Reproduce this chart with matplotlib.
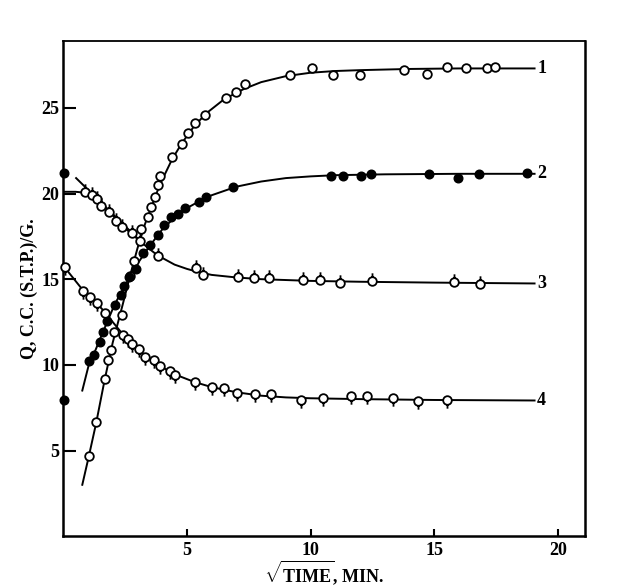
import matplotlib
matplotlib.use("Agg")
import matplotlib.pyplot as plt
from matplotlib.path import Path

plt.rcParams['font.family'] = ['Liberation Serif', 'DejaVu Serif']
plt.rcParams['font.weight'] = 'bold'
plt.rcParams['mathtext.fontset'] = 'custom'
plt.rcParams['mathtext.rm'] = 'Liberation Serif:bold'
plt.rcParams['mathtext.bf'] = 'Liberation Serif:bold'

# ---- data (x = sqrt(time, min), y = Q, c.c./g) ----
x1 = [1.04, 1.33, 1.67, 1.80, 1.94, 2.04, 2.37, 2.68, 2.87, 3.15, 3.44, 3.55, 3.71,
      3.84, 3.92, 4.38, 4.80, 5.03, 5.31, 5.74, 6.59, 6.99, 7.34, 9.17, 10.04, 10.89,
      11.98, 13.79, 14.70, 15.50, 16.28, 17.12, 17.46]
y1 = [4.7, 6.65, 9.2, 10.3, 10.85, 11.9, 12.9, 15.2, 16.05, 17.9, 18.6, 19.2, 19.8,
      20.5, 21.0, 22.15, 22.9, 23.55, 24.1, 24.6, 25.6, 25.9, 26.4, 26.9, 27.3, 26.9,
      26.9, 27.2, 27.0, 27.4, 27.3, 27.3, 27.4]

x2 = [1.05, 1.25, 1.48, 1.62, 1.77, 2.08, 2.32, 2.47, 2.65, 2.94, 3.24, 3.52, 3.83,
      4.08, 4.37, 4.64, 4.94, 5.48, 5.77, 6.88, 10.81, 11.30, 12.02, 12.43, 14.78,
      15.97, 16.80, 18.74]
y2 = [10.2, 10.55, 11.35, 11.9, 12.55, 13.5, 14.1, 14.6, 15.1, 15.6, 16.5, 17.0, 17.6,
      18.15, 18.6, 18.8, 19.15, 19.5, 19.8, 20.4, 21.0, 21.0, 21.0, 21.15, 21.15,
      20.9, 21.15, 21.2]

x3 = [0.86, 1.17, 1.35, 1.52, 1.86, 2.14, 2.39, 2.76, 3.12, 3.82, 5.37, 5.64, 7.08,
      7.69, 8.32, 9.69, 10.38, 11.17, 12.47, 15.80, 16.83]
y3 = [20.1, 19.9, 19.68, 19.3, 18.9, 18.42, 18.05, 17.68, 17.2, 16.38, 15.63, 15.25,
      15.14, 15.04, 15.04, 14.98, 14.98, 14.8, 14.92, 14.82, 14.7]

x4 = [0.08, 0.81, 1.10, 1.35, 1.70, 2.42, 2.60, 2.77, 3.08, 3.30, 3.68, 3.91, 4.30,
      4.53, 5.34, 6.03, 6.50, 7.04, 7.74, 8.41, 9.62, 10.51, 11.64, 12.26, 13.32,
      14.33, 15.52]
y4 = [15.7, 14.3, 13.96, 13.6, 13.0, 11.77, 11.48, 11.22, 10.95, 10.43, 10.28, 9.92,
      9.64, 9.39, 9.02, 8.7, 8.65, 8.35, 8.27, 8.31, 7.92, 8.06, 8.2, 8.18, 8.08, 7.9,
      7.92]

# starting values marked on the y axis
x0 = [0.05, 0.05]
y0 = [21.2, 7.95]

# drawn curves
cx1 = [0.77, 1.04, 1.33, 1.67, 2.0, 2.4, 2.7, 3.0, 3.3, 3.6, 3.9, 4.4, 4.8, 5.3, 5.8,
       6.5, 7.3, 8.0, 9.0, 10.0, 11.0, 12.0, 14.0, 16.0, 19.05]
cy1 = [3.0, 4.7, 6.6, 9.1, 11.3, 13.5, 15.2, 16.8, 18.2, 19.35, 20.5, 22.0, 22.95,
       23.95, 24.7, 25.5, 26.1, 26.5, 26.85, 27.05, 27.15, 27.2, 27.27, 27.3, 27.3]

cx2 = [0.77, 1.05, 1.3, 1.6, 2.07, 2.5, 3.0, 3.5, 4.0, 4.5, 5.0, 5.5, 6.0, 7.0, 8.0,
       9.0, 10.0, 11.0, 13.0, 16.0, 19.05]
cy2 = [8.5, 10.1, 10.85, 11.9, 13.5, 14.65, 15.9, 16.95, 17.9, 18.6, 19.15, 19.55,
       19.9, 20.4, 20.7, 20.9, 21.0, 21.07, 21.12, 21.15, 21.15]

cx3 = [0.0, 0.5, 0.86, 1.2, 1.5, 1.9, 2.4, 2.8, 3.2, 3.8, 4.5, 5.0, 5.5, 6.0, 7.0,
       8.0, 10.0, 12.0, 15.0, 19.05]
cy3 = [20.1, 20.1, 20.05, 19.8, 19.45, 18.9, 18.1, 17.6, 17.1, 16.4, 15.85, 15.6,
       15.4, 15.25, 15.1, 15.0, 14.9, 14.85, 14.8, 14.75]

cx3b = [0.52, 3.1]
cy3b = [20.9, 17.25]

cx4 = [0.05, 0.8, 1.35, 1.7, 2.0, 2.4, 2.8, 3.3, 3.9, 4.5, 5.3, 6.0, 7.0, 8.0, 9.0,
       10.0, 12.0, 15.0, 19.05]
cy4 = [15.7, 14.35, 13.6, 13.05, 12.5, 11.8, 11.2, 10.55, 9.95, 9.45, 9.0, 8.7, 8.4,
       8.2, 8.1, 8.05, 8.0, 7.95, 7.92]

curve_labels = ['1', '2', '3', '4']
label_y = [27.3, 21.15, 14.75, 7.92]

xticks = [5, 10, 15, 20]
yticks = [5, 10, 15, 20, 25]

# circle markers with a small stem (up for curve 3, down for curve 4)
circ = Path.unit_circle()
stem_up = Path.make_compound_path(circ, Path([(0, 1), (0, 1.9)], [Path.MOVETO, Path.LINETO]))
stem_dn = Path.make_compound_path(circ, Path([(0, -1), (0, -1.9)], [Path.MOVETO, Path.LINETO]))

fig = plt.figure(figsize=(6.2, 5.86), dpi=100)
ax = fig.add_axes([0.102, 0.085, 0.842, 0.845])

lw = 1.4
for cx, cy in [(cx1, cy1), (cx2, cy2), (cx3, cy3), (cx3b, cy3b), (cx4, cy4)]:
    ax.plot(cx, cy, color='black', lw=lw, zorder=2)

ms = 6.2
ax.plot(x1, y1, 'o', ms=ms, mfc='white', mec='black', mew=1.3, zorder=3)
ax.plot(x2, y2, 'o', ms=ms, mfc='black', mec='black', mew=1.0, zorder=3)
ax.plot(x3, y3, ls='none', marker=stem_up, ms=ms * 1.9, mfc='white', mec='black',
        mew=1.3, zorder=3)
ax.plot(x4, y4, ls='none', marker=stem_dn, ms=ms * 1.9, mfc='white', mec='black',
        mew=1.3, zorder=3, clip_on=False)
ax.plot(x0, y0, 'o', ms=ms, mfc='black', mec='black', zorder=4, clip_on=False)

for lab, ly in zip(curve_labels, label_y):
    ax.text(19.15, ly, lab, ha='left', va='center', fontsize=13, fontweight='bold')

ax.set_xlim(0, 21.1)
ax.set_ylim(0, 28.9)
ax.set_xticks(xticks)
ax.set_yticks(yticks)
ax.tick_params(direction='in', width=1.5, labelsize=13, pad=4)
ax.tick_params(axis='y', length=9, pad=3)
ax.tick_params(axis='x', length=5)
for lbl in ax.get_xticklabels() + ax.get_yticklabels():
    lbl.set_fontweight('bold')
for side in ['left', 'bottom', 'right']:
    ax.spines[side].set_linewidth(1.8)
ax.spines['top'].set_linewidth(1.3)

ax.set_xlabel(r'$\sqrt{\mathrm{TIME}}$, MIN.', fontsize=13, fontweight='bold', labelpad=0)
ax.set_ylabel('Q, C.C. (S.T.P.)/G.', fontsize=13, fontweight='bold', labelpad=2)

fig.savefig('out.png', dpi=100)
